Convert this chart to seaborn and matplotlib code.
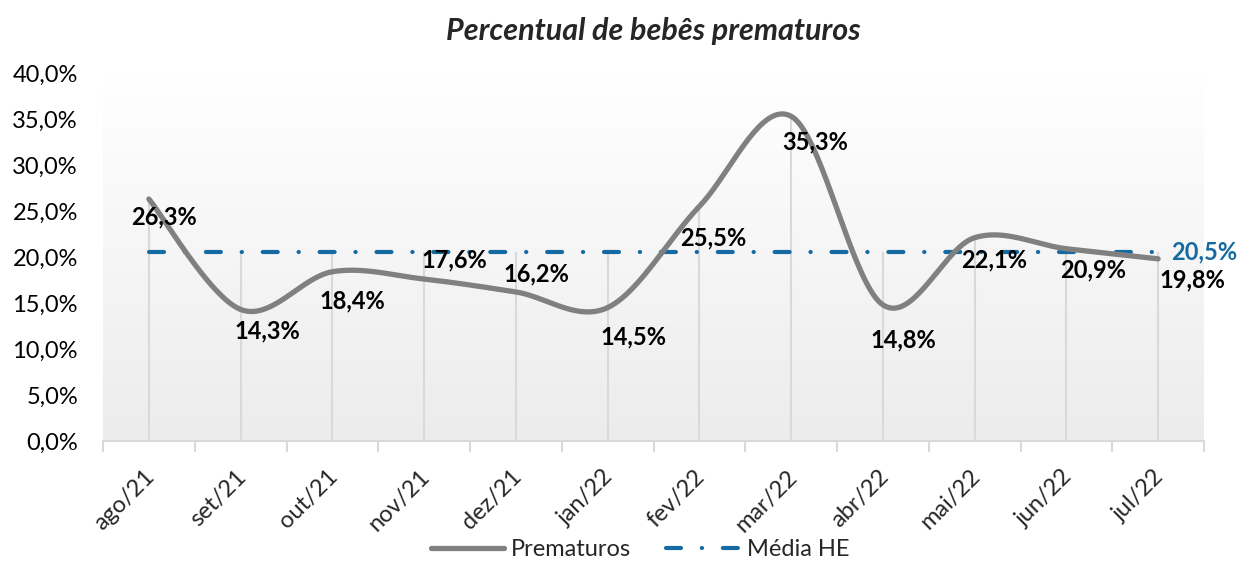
import numpy as np
import pandas as pd
import matplotlib
matplotlib.use("Agg")
import matplotlib.pyplot as plt
import matplotlib.transforms as mtransforms
import seaborn as sns
from matplotlib.ticker import FuncFormatter

# Chart data
meses = ["ago/21", "set/21", "out/21", "nov/21", "dez/21", "jan/22",
         "fev/22", "mar/22", "abr/22", "mai/22", "jun/22", "jul/22"]
prematuros = [0.263, 0.143, 0.184, 0.176, 0.162, 0.145,
              0.255, 0.353, 0.148, 0.221, 0.209, 0.198]
media_he = [0.205] * 12

# label offsets (pixels, +dy = downward) from each point
label_dx = [15, 27, 20, 30, 21, 26, 14, 24, 20, 19, 27, 34]
label_dy = [18, 21, 29, -19, -18, 29, 32, 26, 35, 22, 21, 21]

sns.set_theme(style="white")
plt.rcParams["font.family"] = ["Lato", "DejaVu Sans"]

fig = plt.figure(figsize=(12.4, 5.61), dpi=100)
ax = fig.add_axes([103 / 1240, 1 - 441 / 561, 1101 / 1240, 368 / 561])

# background gradient (white -> light gray)
grad = np.linspace(0, 1, 256).reshape(-1, 1)
cmap = matplotlib.colors.LinearSegmentedColormap.from_list("g", ["#ffffff", "#ececec"])
ax.imshow(grad, aspect="auto", cmap=cmap, extent=[0, 1, 0, 1],
          transform=ax.transAxes, zorder=0)

idx = np.arange(len(meses))

# drop lines up to highest series value
top = np.maximum(prematuros, media_he)
ax.vlines(idx, 0, top, color="#d9d9d9", lw=1.5, zorder=1)


# smoothed curve (Catmull-Rom style bezier, like Excel)
def smooth(xv, yv, n=40):
    p = np.column_stack([xv, yv]).astype(float)
    p = np.vstack([p[0], p, p[-1]])
    out = []
    for i in range(1, len(p) - 2):
        p0, p1, p2, p3 = p[i - 1], p[i], p[i + 1], p[i + 2]
        c1 = p1 + (p2 - p0) / 6
        c2 = p2 - (p3 - p1) / 6
        t = np.linspace(0, 1, n)[:, None]
        seg = ((1 - t) ** 3) * p1 + 3 * ((1 - t) ** 2) * t * c1 + 3 * (1 - t) * t ** 2 * c2 + t ** 3 * p2
        out.append(seg)
    s = np.vstack(out)
    return s[:, 0], s[:, 1]


sx, sy = smooth(idx, prematuros)
curve = pd.DataFrame({"x": sx, "y": sy})
sns.lineplot(data=curve, x="x", y="y", ax=ax, color="#808080", lw=3.8,
             sort=False, zorder=3, label="Prematuros",
             solid_capstyle="round")

media_df = pd.DataFrame({"x": idx, "y": media_he})
sns.lineplot(data=media_df, x="x", y="y", ax=ax, color="#156aa2", lw=3,
             linestyle=(0, (3.6, 5.0, 0.05, 5.0)), dash_capstyle="round",
             zorder=2, label="Média HE")

# data labels
for i, v in enumerate(prematuros):
    ax.annotate(f"{v * 100:.1f}%".replace(".", ","), (i, v),
                xytext=(label_dx[i] * 0.72, -label_dy[i] * 0.72),
                textcoords="offset points", ha="center", va="center",
                fontsize=17, fontweight="bold", color="black", zorder=5)

ax.annotate(f"{media_he[-1] * 100:.1f}%".replace(".", ","),
            (idx[-1], media_he[-1]), xytext=(46 * 0.72, 0),
            textcoords="offset points", ha="center", va="center",
            fontsize=17, fontweight="bold", color="#156aa2",
            annotation_clip=False, zorder=5)

ax.set_xlim(-0.5, len(meses) - 0.5)
ax.set_ylim(0, 0.40)
ax.set_yticks(np.arange(0, 0.41, 0.05))
ax.yaxis.set_major_formatter(FuncFormatter(lambda v, p: f"{v * 100:.1f}%".replace(".", ",")))
ax.set_xticks(idx)
ax.set_xticklabels(meses, rotation=45, ha="right", rotation_mode="anchor")
ax.set_xticks(np.arange(-0.5, len(meses)), minor=True)
ax.tick_params(axis="x", which="major", length=0, pad=18, labelsize=17)
ax.tick_params(axis="x", which="minor", length=8, width=1.5, color="#d9d9d9",
               direction="out", bottom=True)
ax.tick_params(axis="y", length=0, labelsize=17, pad=18, labelcolor="black")
ax.set_xlabel("")
ax.set_ylabel("")

shift = mtransforms.ScaledTranslation(-5 / 100, 0, fig.dpi_scale_trans)
for lbl in ax.get_xticklabels():
    lbl.set_transform(lbl.get_transform() + shift)

for s in ["top", "right", "left"]:
    ax.spines[s].set_visible(False)
ax.spines["bottom"].set_color("#d9d9d9")
ax.spines["bottom"].set_linewidth(1.5)

ax.set_title("Percentual de bebês prematuros", fontsize=22, fontweight="bold",
             fontstyle="italic", pad=24)

ax.legend(loc="lower center", bbox_to_anchor=(0.516, -0.02), bbox_transform=fig.transFigure,
          ncol=2, frameon=False, fontsize=17, handlelength=3.1, columnspacing=1.5,
          handletextpad=0.3, borderaxespad=0.1)

fig.savefig("out.png", dpi=100)
